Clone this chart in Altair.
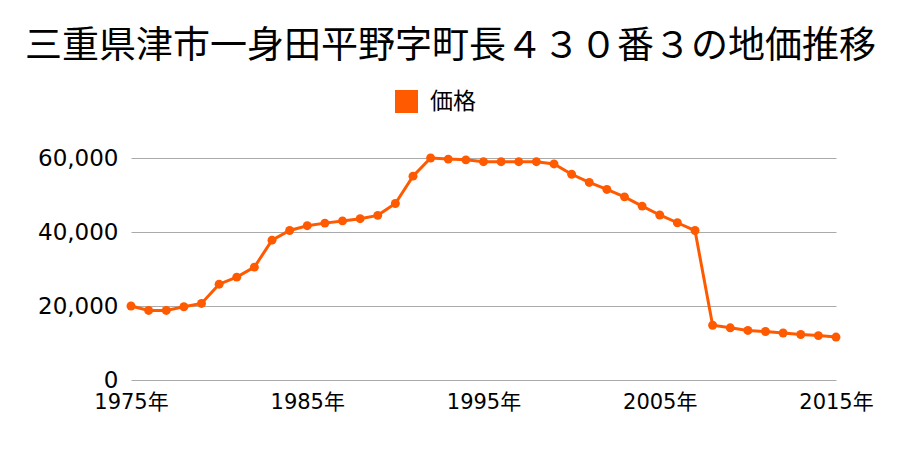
import altair as alt
import pandas as pd

years = list(range(1975, 2016))
prices = [20000, 18800, 18800, 19800, 20700, 25900, 27800, 30500, 37800, 40400,
          41700, 42400, 43000, 43600, 44500, 47700, 55100, 60000, 59700, 59500,
          59000, 59000, 59000, 59000, 58400, 55600, 53400, 51500, 49500, 47000,
          44600, 42500, 40400, 14800, 14100, 13400, 13100, 12700, 12300, 12000,
          11600]
series = ["価格"] * len(years)

df = pd.DataFrame({"year": years, "price": prices, "series": series})

FONT = "Noto Sans CJK JP"
LFONT = "DejaVu Sans, Noto Sans CJK JP"
COLOR = "#ff5a00"

x = alt.X("year:Q",
          scale=alt.Scale(domain=[1975, 2015], nice=False, zero=False),
          axis=alt.Axis(values=[1975, 1985, 1995, 2005, 2015], labelExpr="datum.value + '年'",
                        grid=False, ticks=False, domain=False, title=None,
                        labelFontSize=21, labelPadding=11, labelColor="#000", labelFont=LFONT,
                        labelFlush=False))
y = alt.Y("price:Q",
          scale=alt.Scale(domain=[0, 60000], nice=False),
          axis=alt.Axis(values=[0, 20000, 40000, 60000], format=",d",
                        grid=True, gridColor="#aaaaaa", gridWidth=1,
                        ticks=False, domain=False, title=None,
                        labelFontSize=23, labelPadding=13, labelColor="#000", labelFont=LFONT))

line = alt.Chart(df).mark_line(color=COLOR, strokeWidth=3).encode(x=x, y=y)
points = alt.Chart(df).mark_point(filled=True, size=80, opacity=1).encode(
    x=x, y=y,
    color=alt.Color("series:N", scale=alt.Scale(range=[COLOR]),
                    legend=alt.Legend(title=None, orient="none", legendX=264, legendY=-68,
                                      symbolType="square", symbolSize=529,
                                      symbolStrokeWidth=0, labelFontSize=23,
                                      labelFont=FONT, labelColor="#000", labelOffset=12)))

chart = (line + points).properties(
    width=705, height=222,
    autosize=alt.AutoSizeParams(type="none"),
    padding={"left": 131, "top": 158, "right": 64, "bottom": 70},
    title=alt.TitleParams("三重県津市一身田平野字町長４３０番３の地価推移", fontSize=37,
                          font=FONT, fontWeight="normal", color="#000",
                          anchor="middle", dx=-33, offset=24),
).configure_view(stroke=None)

chart.save("out.html", embed_options={"renderer": "svg", "actions": False})
